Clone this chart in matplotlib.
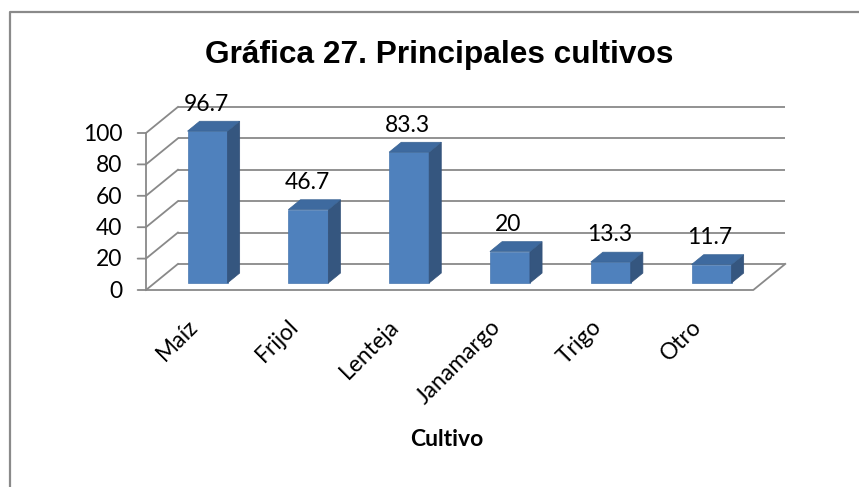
import numpy as np
import matplotlib
matplotlib.use('Agg')
import matplotlib.pyplot as plt
from matplotlib.patches import Polygon
from matplotlib.lines import Line2D

# data
cultivos = ['Maíz', 'Frijol', 'Lenteja', 'Janamargo', 'Trigo', 'Otro']
porcentaje = [96.7, 46.7, 83.3, 20, 13.3, 11.7]
etiquetas = ['96.7', '46.7', '83.3', '20', '13.3', '11.7']
y_ticks = [0, 20, 40, 60, 80, 100]

# 3d look (depth in data units)
DX, DY = 0.317, 16.6      # full depth of the floor
D0 = 0.27                 # where the bar fronts sit
DB = 0.38                 # bar depth
W = 0.397                 # bar width
X_LEFT, X_RIGHT = -0.525, 5.50

front_c = '#4F81BD'
side_c = '#35567F'
top_c = '#3E6A9F'
grid_c = '#898989'
num_font = 'Lato'
fs = 16.5

fig = plt.figure(figsize=(8.59, 4.87), dpi=100)
ax = fig.add_axes([146 / 859, 1 - 290 / 487, 640 / 859, 182 / 487])
ax.set_xlim(-0.5248, 5.8244)
ax.set_ylim(0, 115.92)
ax.axis('off')

# back wall gridlines + left wall diagonals + ticks
for t in y_ticks:
    ax.plot([X_LEFT + DX, X_RIGHT + DX], [t + DY, t + DY], color=grid_c, lw=1.3,
            zorder=1, clip_on=False, solid_capstyle='butt')
    ax.plot([X_LEFT, X_LEFT + DX], [t, t + DY], color=grid_c, lw=1.3,
            zorder=1, clip_on=False)
    ax.annotate('', xy=(X_LEFT, t), xytext=(-6, 0), textcoords='offset points',
                arrowprops=dict(arrowstyle='-', color=grid_c, lw=1.3,
                                shrinkA=0, shrinkB=0))
    ax.annotate(str(t), xy=(X_LEFT, t), xytext=(-17, -1), textcoords='offset points',
                ha='right', va='center', fontsize=fs, family=num_font)

# front axis and floor
ax.plot([X_LEFT, X_LEFT], [0, 100], color=grid_c, lw=1.3, zorder=1, clip_on=False)
ax.plot([X_LEFT, X_RIGHT, X_RIGHT + DX], [0, 0, DY], color=grid_c, lw=1.3,
        zorder=1, clip_on=False)

# bars
xs = np.arange(len(cultivos)) + D0 * DX
base = D0 * DY
ax.bar(xs, porcentaje, width=W, bottom=base, color=front_c, edgecolor='#4A78B0',
       lw=0.5, zorder=3)
for x, v, lab in zip(xs, porcentaje, etiquetas):
    x0, x1 = x - W / 2, x + W / 2
    yt = base + v
    side = Polygon([(x1, base), (x1 + DB * DX, base + DB * DY),
                    (x1 + DB * DX, yt + DB * DY), (x1, yt)],
                   closed=True, fc=side_c, ec='#34527A', lw=0.5, zorder=3)
    top = Polygon([(x0, yt), (x1, yt), (x1 + DB * DX, yt + DB * DY),
                   (x0 + DB * DX, yt + DB * DY)],
                  closed=True, fc=top_c, ec='#3A6494', lw=0.5, zorder=3)
    ax.add_patch(side)
    ax.add_patch(top)
    ax.annotate(lab, xy=(x, yt), xytext=(-1, 19.5), textcoords='offset points',
                ha='center', va='center', fontsize=fs, family=num_font,
                annotation_clip=False, zorder=5)

# category labels
for x, name in zip(xs, cultivos):
    ax.annotate(name, xy=(x, 0), xytext=(-4, -18.5), textcoords='offset points',
                ha='right', va='top', rotation=45, fontsize=fs, family=num_font,
                annotation_clip=False)

fig.text(447 / 859, 1 - 439 / 487, 'Cultivo', ha='center', va='center',
         fontsize=16.5, fontweight='bold', family=num_font)
fig.text(439 / 859, 1 - 63 / 487, 'Gráfica 27. Principales cultivos', ha='center',
         va='baseline', fontsize=22.8, fontweight='bold', family='Liberation Sans')

# chart border (only left and top visible)
bx, by = 10 / 859, 1 - 12 / 487
fig.add_artist(Line2D([bx, bx, 1], [0, by, by], transform=fig.transFigure,
                      color='#8a8a8a', lw=1.6))

fig.savefig('out.png', dpi=100)
